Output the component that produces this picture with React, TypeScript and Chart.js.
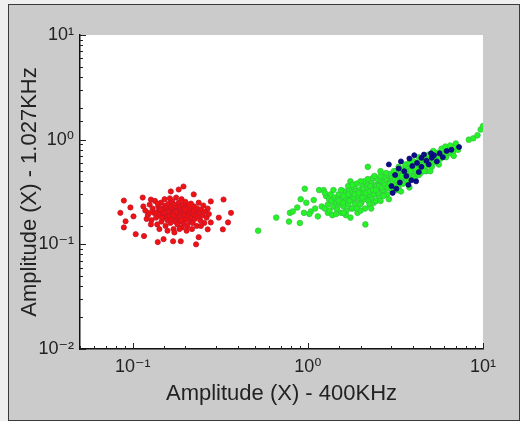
import React, { useEffect, useRef } from "react";
import { Chart, registerables } from "chart.js";

Chart.register(...registerables);

// ---- Data ----
const xTitle = "Amplitude (X) - 400KHz";
const yTitle = "Amplitude (X) - 1.027KHz";
const xMin = 0.05;
const xMax = 10;
const yMin = 0.01;
const yMax = 10;

const redPoints: [number, number][] = [
  [0.089, 0.262], [0.085, 0.2], [0.089, 0.145], [0.091, 0.166], [0.104, 0.125], [0.116, 0.12],
  [0.139, 0.105], [0.15, 0.112], [0.17, 0.107], [0.188, 0.107], [0.23, 0.1], [0.238, 0.117],
  [0.195, 0.357], [0.183, 0.334], [0.165, 0.32], [0.223, 0.3], [0.279, 0.257], [0.33, 0.268],
  [0.364, 0.2], [0.35, 0.162], [0.327, 0.139], [0.31, 0.18], [0.279, 0.162], [0.268, 0.139],
  [0.114, 0.28], [0.127, 0.268], [0.097, 0.225], [0.101, 0.185],
  [0.118, 0.21], [0.122, 0.19], [0.125, 0.24], [0.128, 0.17], [0.13, 0.22], [0.132, 0.2], [0.134, 0.26], [0.136, 0.18], [0.138, 0.155], [0.14, 0.23],
  [0.141, 0.21], [0.143, 0.19], [0.145, 0.25], [0.146, 0.165], [0.148, 0.22], [0.149, 0.2], [0.15, 0.18], [0.152, 0.27], [0.153, 0.235], [0.154, 0.15],
  [0.155, 0.21], [0.156, 0.19], [0.157, 0.225], [0.158, 0.17], [0.16, 0.245], [0.161, 0.2], [0.162, 0.185], [0.163, 0.215], [0.164, 0.16], [0.165, 0.23],
  [0.166, 0.205], [0.167, 0.175], [0.168, 0.26], [0.169, 0.195], [0.17, 0.22], [0.171, 0.14], [0.172, 0.185], [0.173, 0.24], [0.174, 0.21], [0.175, 0.165],
  [0.176, 0.2], [0.177, 0.28], [0.178, 0.19], [0.179, 0.225], [0.18, 0.155], [0.181, 0.21], [0.182, 0.175], [0.183, 0.25], [0.184, 0.2], [0.185, 0.185],
  [0.186, 0.23], [0.187, 0.165], [0.188, 0.215], [0.189, 0.195], [0.19, 0.27], [0.191, 0.145], [0.192, 0.205], [0.193, 0.18], [0.194, 0.24], [0.195, 0.22],
  [0.196, 0.16], [0.197, 0.2], [0.198, 0.19], [0.2, 0.255], [0.201, 0.175], [0.202, 0.21], [0.204, 0.23], [0.205, 0.15], [0.206, 0.195], [0.208, 0.185],
  [0.21, 0.22], [0.212, 0.165], [0.213, 0.2], [0.215, 0.245], [0.217, 0.18], [0.219, 0.21], [0.22, 0.16], [0.222, 0.195], [0.224, 0.23], [0.226, 0.175],
  [0.228, 0.205], [0.23, 0.19], [0.232, 0.15], [0.234, 0.22], [0.236, 0.185], [0.238, 0.25], [0.24, 0.2], [0.243, 0.17], [0.246, 0.215], [0.25, 0.19],
  [0.253, 0.235], [0.256, 0.16], [0.26, 0.205], [0.264, 0.18], [0.268, 0.22], [0.272, 0.195], [0.135, 0.2], [0.144, 0.215], [0.159, 0.205], [0.171, 0.19],
  [0.147, 0.18], [0.124, 0.2], [0.139, 0.245], [0.151, 0.2], [0.163, 0.275], [0.177, 0.205], [0.189, 0.17], [0.199, 0.215], [0.211, 0.24], [0.223, 0.21],
  [0.115, 0.23], [0.12, 0.175], [0.127, 0.155], [0.142, 0.14], [0.158, 0.135], [0.173, 0.13], [0.185, 0.14], [0.203, 0.135], [0.218, 0.14], [0.245, 0.15],
];

const greenPoints: [number, number][] = [
  [0.52, 0.135], [0.66, 0.18], [0.79, 0.2], [0.78, 0.165], [0.82, 0.206], [0.87, 0.225], [0.9, 0.16], [0.91, 0.27], [0.96, 0.34],
  [0.95, 0.2], [0.98, 0.25], [1.04, 0.206], [1.1, 0.22], [1.14, 0.185], [1.16, 0.33], [1.23, 0.33], [1.27, 0.29], [1.02, 0.195],
  [1.08, 0.265], [1.2, 0.23], [1.25, 0.22], [1.3, 0.2], [1.32, 0.27],
  [1.3, 0.24], [1.33, 0.21], [1.36, 0.26], [1.38, 0.19], [1.4, 0.23], [1.42, 0.28], [1.45, 0.25], [1.47, 0.215], [1.5, 0.3], [1.52, 0.24],
  [1.55, 0.2], [1.57, 0.27], [1.6, 0.23], [1.62, 0.32], [1.64, 0.26], [1.66, 0.21], [1.68, 0.29], [1.7, 0.24], [1.72, 0.33], [1.75, 0.27],
  [1.77, 0.22], [1.8, 0.3], [1.82, 0.26], [1.84, 0.35], [1.86, 0.24], [1.88, 0.28], [1.9, 0.31], [1.92, 0.2], [1.95, 0.27], [1.97, 0.33],
  [2.0, 0.29], [2.02, 0.25], [2.05, 0.36], [2.07, 0.3], [2.1, 0.27], [2.12, 0.22], [2.15, 0.32], [2.17, 0.38], [2.2, 0.29], [2.22, 0.26],
  [2.25, 0.34], [2.28, 0.31], [2.3, 0.4], [2.32, 0.28], [2.35, 0.35], [2.38, 0.25], [2.4, 0.32], [2.43, 0.37], [2.46, 0.3], [2.5, 0.42],
  [2.52, 0.34], [2.55, 0.29], [2.58, 0.38], [2.6, 0.33], [2.63, 0.4], [2.66, 0.31], [2.7, 0.36], [2.73, 0.44], [2.76, 0.34], [2.8, 0.39],
  [2.83, 0.3], [2.86, 0.37], [2.9, 0.42], [2.93, 0.35], [2.96, 0.47], [3.0, 0.4], [3.05, 0.36], [3.1, 0.44], [3.15, 0.39], [3.2, 0.5],
  [3.25, 0.42], [3.3, 0.37], [3.35, 0.46], [3.4, 0.41], [3.45, 0.52], [3.5, 0.44], [3.55, 0.39], [3.6, 0.48], [3.66, 0.55], [3.72, 0.45],
  [3.78, 0.5], [3.84, 0.42], [3.9, 0.57], [3.96, 0.49], [4.02, 0.53], [4.1, 0.46], [4.18, 0.6], [4.25, 0.52], [4.33, 0.56], [4.4, 0.48],
  [4.48, 0.62], [4.56, 0.55], [4.65, 0.59], [4.74, 0.5], [4.83, 0.66], [4.92, 0.58], [5.0, 0.62], [5.1, 0.55], [5.2, 0.7], [5.3, 0.63],
  [5.4, 0.67], [5.5, 0.6], [5.62, 0.73], [5.75, 0.66], [5.88, 0.7], [6.0, 0.76], [6.15, 0.68], [6.3, 0.8], [6.45, 0.74], [6.6, 0.82],
  [6.75, 0.77], [6.9, 0.86], [7.2, 0.8], [8.3, 1.0], [8.8, 1.03], [9.3, 1.1], [9.7, 1.25], [10.0, 1.35],
  [1.48, 0.27], [1.58, 0.25], [1.63, 0.28], [1.73, 0.26], [1.78, 0.31], [1.83, 0.28], [1.87, 0.32], [1.93, 0.29], [1.98, 0.24], [2.03, 0.32],
  [2.08, 0.34], [2.13, 0.29], [2.18, 0.33], [2.23, 0.3], [2.27, 0.36], [2.33, 0.32], [2.37, 0.3], [2.42, 0.34], [2.47, 0.36], [2.53, 0.31],
  [2.57, 0.35], [2.62, 0.37], [2.68, 0.33], [2.72, 0.39], [2.78, 0.36], [2.82, 0.41], [2.88, 0.38], [2.95, 0.4], [3.02, 0.43], [3.08, 0.38],
  [3.12, 0.41], [3.18, 0.45], [3.28, 0.44], [3.38, 0.43], [3.48, 0.47], [3.58, 0.45], [3.7, 0.49], [3.82, 0.47], [3.95, 0.52], [4.05, 0.5],
  [4.2, 0.54], [4.35, 0.52], [4.5, 0.57], [4.7, 0.56], [4.9, 0.61], [5.15, 0.6], [5.35, 0.65], [5.6, 0.66], [5.9, 0.72], [6.2, 0.75],
  [1.55, 0.33], [1.7, 0.36], [1.9, 0.38], [2.1, 0.4], [2.0, 0.21], [2.25, 0.24], [2.45, 0.26], [2.7, 0.29], [3.0, 0.33], [3.3, 0.34],
  [2.9, 0.27], [1.65, 0.19], [1.45, 0.195], [2.13, 0.155], [2.2, 0.55], [2.35, 0.43], [1.75, 0.4], [1.8, 0.22], [2.6, 0.45], [3.2, 0.33],
  [3.5, 0.38], [4.0, 0.44], [4.3, 0.46], [4.6, 0.5], [1.25, 0.31], [1.35, 0.3], [1.4, 0.33],
  [4.0, 0.62], [4.3, 0.68], [4.6, 0.66], [4.9, 0.72], [5.2, 0.78], [5.5, 0.75], [3.6, 0.58], [3.8, 0.6], [3.3, 0.55], [3.1, 0.5],
  [5.8, 0.82], [6.1, 0.86], [6.5, 0.88], [7.0, 0.92], [6.8, 0.7], [5.0, 0.5], [5.6, 0.58], [4.1, 0.42], [3.7, 0.4], [2.8, 0.48],
  [2.6, 0.5], [2.4, 0.45], [2.2, 0.42], [2.0, 0.4], [1.8, 0.37], [1.6, 0.2], [1.75, 0.18], [1.9, 0.22], [2.3, 0.22], [2.6, 0.26],
  [3.4, 0.32], [3.8, 0.35], [1.5, 0.26], [1.6, 0.29], [1.7, 0.3], [1.85, 0.3], [1.95, 0.31], [2.05, 0.28], [2.15, 0.31], [2.25, 0.32],
  [2.35, 0.33], [2.45, 0.33], [2.55, 0.36], [2.65, 0.35], [2.75, 0.37], [2.85, 0.35], [2.95, 0.38], [3.05, 0.4], [3.15, 0.42], [3.25, 0.4],
  [3.45, 0.45], [3.65, 0.47], [3.85, 0.5], [4.1, 0.53], [4.4, 0.55], [4.8, 0.6], [5.2, 0.64],
];

const bluePoints: [number, number][] = [
  [2.9, 0.58], [3.05, 0.31], [3.0, 0.36], [3.15, 0.46], [3.2, 0.34], [3.35, 0.39], [3.4, 0.62], [3.55, 0.5],
  [3.65, 0.45], [3.75, 0.37], [3.8, 0.66], [3.9, 0.41], [3.95, 0.56], [4.05, 0.71], [4.15, 0.4], [4.2, 0.6],
  [4.3, 0.49], [4.45, 0.67], [4.6, 0.72], [4.75, 0.63], [4.9, 0.58], [5.1, 0.67], [5.25, 0.71], [5.45, 0.62],
  [5.65, 0.74], [5.9, 0.68], [6.2, 0.78], [6.6, 0.8], [7.3, 0.85], [3.3, 0.53], [4.45, 0.55], [5.05, 0.74],
];

const SUP: Record<string, string> = { "-": "\u207B", "0": "\u2070", "1": "\u00B9", "2": "\u00B2", "3": "\u00B3" };

function isDecade(v: number): boolean {
  const l = Math.log10(v);
  return Math.abs(l - Math.round(l)) < 1e-6;
}
function decadeLabel(v: number): string {
  if (!isDecade(v)) return "";
  const e = String(Math.round(Math.log10(v)));
  return "10" + e.split("").map((c) => SUP[c] || c).join("");
}

const toXY = (pts: [number, number][]) => pts.map(([x, y]) => ({ x, y }));

const plotBg = {
  id: "plotBg",
  beforeDraw(chart: any) {
    const { ctx, chartArea } = chart;
    ctx.save();
    ctx.fillStyle = "#ffffff";
    ctx.fillRect(chartArea.left, chartArea.top, chartArea.right - chartArea.left, chartArea.bottom - chartArea.top);
    ctx.restore();
  },
};

const inwardTicks = {
  id: "inwardTicks",
  afterDraw(chart: any) {
    const { ctx } = chart;
    const xs = chart.scales.x;
    const ys = chart.scales.y;
    ctx.save();
    ctx.strokeStyle = "#222";
    ctx.lineWidth = 1;
    xs.ticks.forEach((t: any) => {
      const px = Math.round(xs.getPixelForValue(t.value)) + 0.5;
      const len = isDecade(t.value) ? 6 : 3;
      ctx.beginPath();
      ctx.moveTo(px, xs.top);
      ctx.lineTo(px, xs.top - len);
      ctx.stroke();
    });
    ys.ticks.forEach((t: any) => {
      const py = Math.round(ys.getPixelForValue(t.value)) + 0.5;
      const len = isDecade(t.value) ? 6 : 3;
      ctx.beginPath();
      ctx.moveTo(ys.right, py);
      ctx.lineTo(ys.right + len, py);
      ctx.stroke();
    });
    ctx.restore();
  },
};

const FONT = "'Liberation Sans', Arial, 'DejaVu Sans', sans-serif";

export default function App() {
  const ref = useRef<HTMLCanvasElement | null>(null);

  useEffect(() => {
    if (!ref.current) return;
    const chart = new Chart(ref.current, {
      type: "scatter",
      data: {
        datasets: [
          {
            label: "blue",
            data: toXY(bluePoints),
            backgroundColor: "#0c0c8c",
            borderColor: "#06066a",
            borderWidth: 0.8,
            pointRadius: 2.5,
          },
          {
            label: "green",
            data: toXY(greenPoints),
            backgroundColor: "#22f522",
            borderColor: "#3cc04a",
            borderWidth: 0.8,
            pointRadius: 2.8,
          },
          {
            label: "red",
            data: toXY(redPoints),
            backgroundColor: "#f31010",
            borderColor: "#c0182c",
            borderWidth: 0.8,
            pointRadius: 2.6,
          },
        ],
      },
      options: {
        animation: false,
        responsive: false,
        events: [],
        layout: { padding: { left: 9, top: 35, right: 37, bottom: 14 } },
        plugins: {
          legend: { display: false },
          tooltip: { enabled: false },
        },
        scales: {
          x: {
            type: "logarithmic",
            min: xMin,
            max: xMax,
            grid: { display: false, drawTicks: false },
            border: { display: true, color: "#111", width: 1.5 },
            ticks: {
              autoSkip: false,
              maxRotation: 0,
              padding: 7,
              color: "#222",
              font: { family: FONT, size: 18 },
              callback: (v: any) => decadeLabel(Number(v)),
            },
            title: {
              display: true,
              text: xTitle,
              color: "#222",
              font: { family: FONT, size: 22 },
              padding: 0,
            },
            afterFit: (s: any) => {
              s.height = 58;
            },
          },
          y: {
            type: "logarithmic",
            min: yMin,
            max: yMax,
            grid: { display: false, drawTicks: false },
            border: { display: true, color: "#111", width: 1.5 },
            ticks: {
              autoSkip: false,
              padding: 6,
              color: "#222",
              font: { family: FONT, size: 18 },
              callback: (v: any) => decadeLabel(Number(v)),
            },
            title: {
              display: true,
              text: yTitle,
              color: "#222",
              font: { family: FONT, size: 22 },
              padding: { top: 8, bottom: 0 },
            },
            afterFit: (s: any) => {
              s.width = 71;
            },
          },
        },
      },
      plugins: [plotBg, inwardTicks],
    } as any);
    return () => chart.destroy();
  }, []);

  return (
    <div style={{ position: "absolute", left: 0, top: 0, width: 520, height: 421, background: "#efefef", overflow: "hidden" }}>
      <div
        style={{
          position: "absolute",
          left: 8,
          top: 4,
          width: 512,
          height: 417,
          boxSizing: "border-box",
          border: "1.5px solid #3a3a3a",
          background: "#cbcbcb",
        }}
      />
      <canvas
        ref={ref}
        width={520}
        height={421}
        style={{ position: "absolute", left: 0, top: 0, width: 520, height: 421 }}
      />
    </div>
  );
}
